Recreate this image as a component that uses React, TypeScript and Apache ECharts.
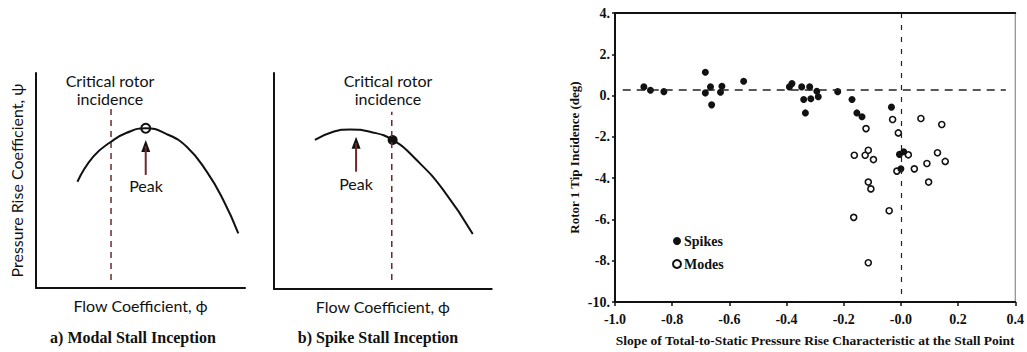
import React, { useEffect, useRef } from "react";
import * as echarts from "echarts";

// ---- Panel (a): modal stall inception, schematic characteristic ----
const modalCurve: [number, number][] = [
  [19.8, 49.4], [27.4, 61.1], [35.9, 68.0], [43.4, 72.2], [52.5, 74.3],
  [62.5, 71.6], [72.1, 65.7], [81.7, 54.1], [89.6, 40.9], [96.8, 25.4],
];
const modalPeak: [number, number][] = [[52.5, 74.3]];
const modalCritical: [number, number][] = [[35.9, 3.7], [35.9, 83.7]];
const modalArrowShaft: [number, number][] = [[52.5, 52.6], [52.5, 66.0]];
const modalArrowHead: [number, number][] = [[52.5, 66.0]];

// ---- Panel (b): spike stall inception, schematic characteristic ----
const spikeCurve: [number, number][] = [
  [18.8, 69.0], [27.2, 72.8], [34.9, 73.9], [44.1, 72.8], [54.5, 69.0],
  [65.5, 59.7], [77.8, 45.8], [91.3, 25.5],
];
const spikeCritical: [number, number][] = [[54.1, 4.2], [54.1, 82.1]];
const spikeStallPoint: [number, number][] = [[54.5, 69.0]];
const spikeArrowShaft: [number, number][] = [[37.7, 54.3], [37.7, 67.7]];
const spikeArrowHead: [number, number][] = [[37.7, 67.7]];

// ---- Panel (c): measured stall points ----
const spikes: [number, number][] = [
  [-0.899, 0.42], [-0.876, 0.26], [-0.829, 0.19], [-0.684, 1.13], [-0.684, 0.13],
  [-0.666, 0.42], [-0.662, -0.45], [-0.631, 0.16], [-0.626, 0.45], [-0.55, 0.69],
  [-0.39, 0.42], [-0.381, 0.58], [-0.347, 0.42], [-0.34, -0.19], [-0.334, -0.84],
  [-0.319, 0.42], [-0.315, -0.15], [-0.294, 0.21], [-0.289, -0.06], [-0.221, 0.19],
  [-0.171, -0.19], [-0.154, -0.84], [-0.136, -1.03], [-0.033, -0.56],
  [-0.005, -2.85], [0.01, -2.72], [0.0, -3.55],
];
const modes: [number, number][] = [
  [-0.029, -1.16], [0.07, -1.11], [0.143, -1.4], [-0.122, -1.6], [-0.009, -1.81],
  [-0.163, -2.89], [-0.125, -2.89], [-0.114, -2.65], [-0.096, -3.1], [0.026, -2.87],
  [-0.014, -3.66], [0.047, -3.55], [0.091, -3.29], [0.128, -2.77], [0.155, -3.19],
  [0.097, -4.19], [-0.114, -4.19], [-0.105, -4.52], [-0.165, -5.9], [-0.041, -5.58],
  [-0.114, -8.1],
];
const criticalIncidence = 0.3;
const zeroSlope = 0;
const xTickLabels = ["-1.0", "-0.8", "-0.6", "-0.4", "-0.2", "-0.0", "0.2", "0.4"];
const yTickLabels = ["-10.", "-8.", "-6.", "-4.", "-2.", "0.", "2.", "4."];

const SANS = "Lato, 'Open Sans', sans-serif";
const SERIF = "'Liberation Serif', 'DejaVu Serif', serif";
const DARK_RED = "#6e2a2a";

function schematicAxes(gridIndex: number, yName: string) {
  const x = {
    type: "value", gridIndex, min: 0, max: 100,
    axisLine: { show: true, lineStyle: { color: "#111", width: 2 } },
    axisTick: { show: false }, axisLabel: { show: false }, splitLine: { show: false },
    name: "Flow Coefficient, \u03d5", nameLocation: "middle", nameGap: 9,
    nameTextStyle: { fontFamily: SANS, fontSize: 16, color: "#111" },
  };
  const y = {
    type: "value", gridIndex, min: 0, max: 100,
    axisLine: { show: true, onZero: false, lineStyle: { color: "#111", width: 2 } },
    axisTick: { show: false }, axisLabel: { show: false }, splitLine: { show: false },
    name: yName, nameLocation: "middle", nameGap: 12,
    nameTextStyle: { fontFamily: SANS, fontSize: 16, color: "#111" },
  };
  return { x, y };
}

export default function App() {
  const ref = useRef<HTMLDivElement>(null);

  useEffect(() => {
    if (!ref.current) return;
    const chart = echarts.init(ref.current, undefined, { renderer: "svg" });
    const a = schematicAxes(0, "Pressure Rise Coefficient, \u03c8");
    const b = schematicAxes(1, "");

    const curve = (xi: number, data: [number, number][]) => ({
      type: "line", xAxisIndex: xi, yAxisIndex: xi, data, smooth: true,
      showSymbol: false, silent: true,
      lineStyle: { color: "#111", width: 2 },
    });
    const dashed = (xi: number, data: [number, number][]) => ({
      type: "line", xAxisIndex: xi, yAxisIndex: xi, data, showSymbol: false, silent: true,
      lineStyle: { color: DARK_RED, width: 1.5, type: [6, 5] },
    });
    const shaft = (xi: number, data: [number, number][]) => ({
      type: "line", xAxisIndex: xi, yAxisIndex: xi, data, showSymbol: false, silent: true,
      lineStyle: { color: DARK_RED, width: 2 },
    });
    const head = (xi: number, data: [number, number][]) => ({
      type: "scatter", xAxisIndex: xi, yAxisIndex: xi, data, symbol: "triangle",
      symbolSize: [9, 12], silent: true, itemStyle: { color: "#111", opacity: 1 },
    });

    chart.setOption({
      animation: false,
      backgroundColor: "#fff",
      grid: [
        { left: 36, top: 73, width: 209, height: 215 },
        { left: 274, top: 73, width: 217.7, height: 216 },
        { left: 615, top: 13, width: 402, height: 289.7, show: true, borderColor: "#777", borderWidth: 1 },
      ],
      xAxis: [
        a.x, b.x,
        {
          type: "value", gridIndex: 2, min: -1, max: 0.4, interval: 0.2,
          axisLine: { show: true, onZero: false, lineStyle: { color: "#111", width: 2 } },
          axisTick: { show: true, length: 4, lineStyle: { color: "#111", width: 1.5 } },
          splitLine: { show: false },
          axisLabel: {
            fontFamily: SERIF, fontSize: 14, fontWeight: "bold", color: "#111", margin: 10,
            formatter: (v: number) => xTickLabels[Math.round((v + 1) / 0.2)] ?? "",
          },
          name: "Slope of Total-to-Static Pressure Rise Characteristic at the Stall Point",
          nameLocation: "middle", nameGap: 31,
          nameTextStyle: { fontFamily: SERIF, fontSize: 13.5, fontWeight: "bold", color: "#111" },
        },
        {
          type: "value", gridIndex: 2, min: -1, max: 0.4, position: "top",
          axisLine: { show: true, onZero: false, lineStyle: { color: "#111", width: 2 } },
          axisTick: { show: false }, axisLabel: { show: false }, splitLine: { show: false },
        },
      ],
      yAxis: [
        a.y, b.y,
        {
          type: "value", gridIndex: 2, min: -10, max: 4, interval: 2,
          axisLine: { show: true, onZero: false, lineStyle: { color: "#111", width: 2 } },
          axisTick: { show: true, length: 3, lineStyle: { color: "#111", width: 1.5 } },
          splitLine: { show: false },
          axisLabel: {
            fontFamily: SERIF, fontSize: 14, fontWeight: "bold", color: "#111", margin: 5,
            formatter: (v: number) => yTickLabels[Math.round((v + 10) / 2)] ?? "",
          },
          name: "Rotor 1 Tip Incidence (deg)", nameLocation: "middle", nameGap: 34,
          nameTextStyle: { fontFamily: SERIF, fontSize: 13, fontWeight: "bold", color: "#111" },
        },
      ],
      legend: {
        left: 667, top: 229, orient: "vertical", itemGap: 9, itemWidth: 8, itemHeight: 8,
        selectedMode: false,
        textStyle: { fontFamily: SERIF, fontSize: 14, fontWeight: "bold", color: "#111", padding: [0, 0, 0, -2] },
        data: [
          { name: "Spikes", icon: "circle" },
          { name: "Modes", icon: "circle" },
        ],
      },
      series: [
        // panel a
        dashed(0, modalCritical),
        curve(0, modalCurve),
        shaft(0, modalArrowShaft),
        head(0, modalArrowHead),
        {
          type: "scatter", xAxisIndex: 0, yAxisIndex: 0, data: modalPeak, symbol: "circle",
          symbolSize: 9, silent: true,
          itemStyle: { color: "#fff", borderColor: "#111", borderWidth: 2, opacity: 1 },
        },
        // panel b
        dashed(1, spikeCritical),
        curve(1, spikeCurve),
        shaft(1, spikeArrowShaft),
        head(1, spikeArrowHead),
        {
          type: "scatter", xAxisIndex: 1, yAxisIndex: 1, data: spikeStallPoint, symbol: "circle",
          symbolSize: 10, silent: true, itemStyle: { color: "#111", opacity: 1 },
        },
        // panel c
        {
          name: "Modes", type: "scatter", xAxisIndex: 2, yAxisIndex: 2, data: modes,
          symbol: "circle", symbolSize: 6,
          itemStyle: { color: "#fff", borderColor: "#111", borderWidth: 1.6, opacity: 1 },
          markLine: {
            silent: true, symbol: "none", label: { show: false },
            lineStyle: { color: "#222", width: 1.2, type: [5, 7] },
            data: [[{ coord: [zeroSlope, 4] }, { coord: [zeroSlope, -9.7] }]],
          },
        },
        {
          name: "Spikes", type: "scatter", xAxisIndex: 2, yAxisIndex: 2, data: spikes,
          symbol: "circle", symbolSize: 7, itemStyle: { color: "#111", opacity: 1 },
          markLine: {
            silent: true, symbol: "none", label: { show: false },
            lineStyle: { color: "#222", width: 1.6, type: [8, 6] },
            data: [[{ coord: [-0.973, criticalIncidence] }, { coord: [0.367, criticalIncidence] }]],
          },
        },
      ],
      graphic: [
        {
          type: "text", x: 110, y: 89,
          style: { text: "Critical rotor\nincidence", font: `16px ${SANS}`, fill: "#111", align: "center", verticalAlign: "middle", lineHeight: 18 },
        },
        {
          type: "text", x: 388, y: 89,
          style: { text: "Critical rotor\nincidence", font: `16px ${SANS}`, fill: "#111", align: "center", verticalAlign: "middle", lineHeight: 18 },
        },
        {
          type: "text", x: 146, y: 185,
          style: { text: "Peak", font: `16px ${SANS}`, fill: "#111", align: "center", verticalAlign: "middle" },
        },
        {
          type: "text", x: 356, y: 183,
          style: { text: "Peak", font: `16px ${SANS}`, fill: "#111", align: "center", verticalAlign: "middle" },
        },
        {
          type: "text", x: 133, y: 337,
          style: { text: "a) Modal Stall Inception", font: `bold 16px ${SERIF}`, fill: "#111", align: "center", verticalAlign: "middle" },
        },
        {
          type: "text", x: 378, y: 337,
          style: { text: "b) Spike Stall Inception", font: `bold 16px ${SERIF}`, fill: "#111", align: "center", verticalAlign: "middle" },
        },
      ],
    });
    return () => chart.dispose();
  }, []);

  return (
    <div
      ref={ref}
      style={{ position: "fixed", left: 0, top: 0, width: 1027, height: 352, background: "#fff" }}
    />
  );
}
